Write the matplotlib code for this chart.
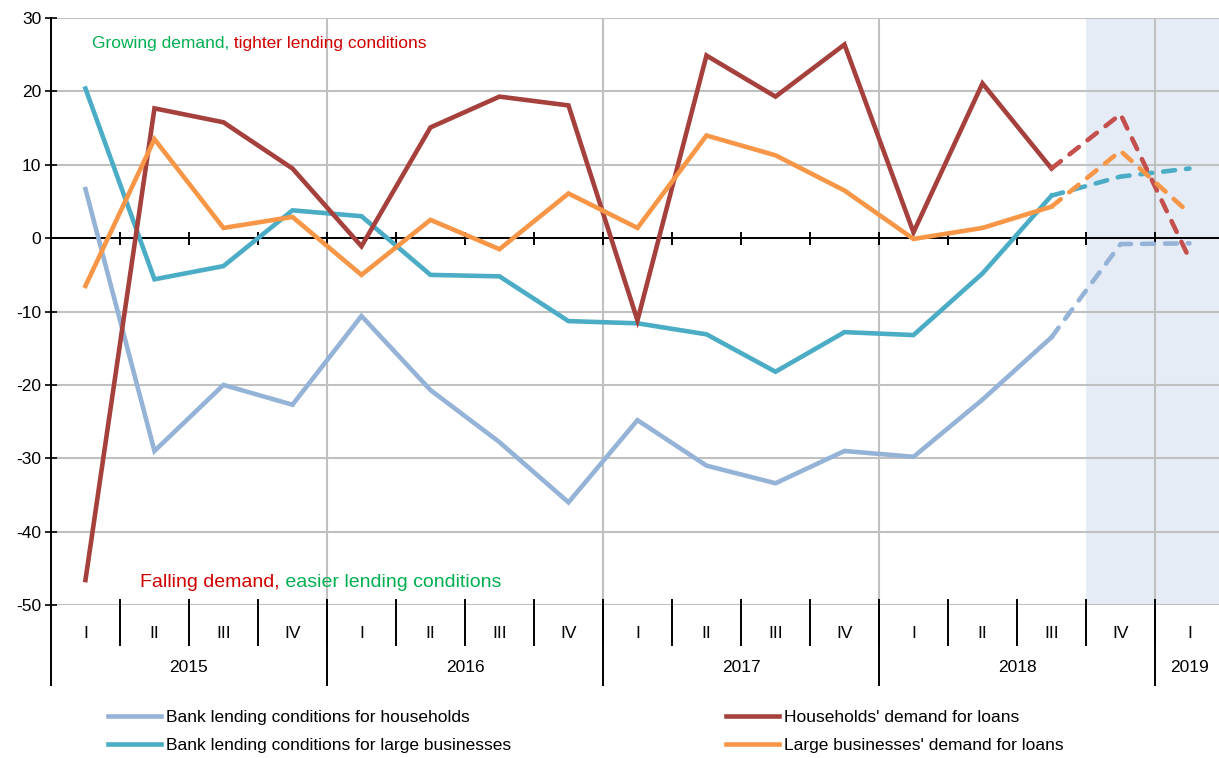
import matplotlib
matplotlib.use("Agg")
import matplotlib.pyplot as plt
import numpy as np

plt.rcParams.update({
    "font.family": "Liberation Sans",
    "font.size": 12,
    "axes.unicode_minus": False,
})

# ------------------------------------------------------------
# Data
# ------------------------------------------------------------
quarters = ["I", "II", "III", "IV"] * 4 + ["I"]
years = ["2015", "2016", "2017", "2018", "2019"]
year_spans = [(0, 3), (4, 7), (8, 11), (12, 15), (16, 16)]

hh_cond = [6.7, -29.0, -20.0, -22.7, -10.6, -20.7, -27.8, -36.0, -24.8,
           -31.0, -33.4, -29.0, -29.8, -22.0, -13.5, -0.8, -0.7]
lb_cond = [20.4, -5.6, -3.8, 3.8, 3.0, -5.0, -5.2, -11.3, -11.6,
           -13.1, -18.2, -12.8, -13.2, -4.8, 5.8, 8.4, 9.5]
hh_dem = [-46.6, 17.7, 15.8, 9.5, -1.1, 15.1, 19.3, 18.1, -11.2,
          24.9, 19.3, 26.4, 0.8, 21.1, 9.5, 16.9, -2.8]
lb_dem = [-6.5, 13.5, 1.4, 2.9, -5.0, 2.5, -1.5, 6.1, 1.4,
          14.0, 11.3, 6.5, -0.1, 1.4, 4.3, 11.9, 3.4]

last_actual = 14  # 2018 Q3, forecast afterwards

# ------------------------------------------------------------
# Colours
# ------------------------------------------------------------
c_hh_cond = "#95B3D7"
c_lb_cond = "#4BACC6"
c_hh_dem = "#A5403D"
c_hh_dem_f = "#C4504D"
c_lb_dem = "#F79646"
green = "#00B050"
red = "#D00000"
grid_c = "#C0C0C0"

fig = plt.figure(figsize=(12.19, 7.58), dpi=100)
ax = fig.add_axes([0.0418, 0.2018, 0.9623, 0.7743])

n = len(quarters)
x = np.arange(n)

# forecast shading and grid
ax.axvspan(last_actual + 0.5, n - 0.5, color="#E6ECF6", zorder=0, lw=0)
for yv in range(-50, 31, 10):
    ax.axhline(yv, color=grid_c, lw=1.5, zorder=1)
for s, e in year_spans[1:]:
    ax.axvline(s - 0.5, color=grid_c, lw=1.5, zorder=1)

# zero axis with small ticks
ax.axhline(0, color="black", lw=1.4, zorder=2)
ax.vlines(x[:-1] + 0.5, -0.9, 0.9, color="black", lw=1.4, zorder=2)

series = [
    (hh_cond, c_hh_cond, c_hh_cond, "Bank lending conditions for households"),
    (lb_cond, c_lb_cond, c_lb_cond, "Bank lending conditions for large businesses"),
    (hh_dem, c_hh_dem, c_hh_dem_f, "Households' demand for loans"),
    (lb_dem, c_lb_dem, c_lb_dem, "Large businesses' demand for loans"),
]
handles = {}
for vals, col, colf, lab in series:
    vals = np.array(vals)
    ln, = ax.plot(x[:last_actual + 1], vals[:last_actual + 1], color=col,
                  lw=3.3, solid_joinstyle="miter", zorder=3, label=lab)
    ax.plot(x[last_actual:], vals[last_actual:], color=colf, lw=3.3,
            ls=(0, (2.6, 2.4)), dash_capstyle="round", zorder=3)
    handles[lab] = ln

ax.set_xlim(-0.5, n - 0.5)
ax.set_ylim(-50, 30)
ax.set_yticks(range(-50, 31, 10))
ax.tick_params(axis="y", direction="inout", length=8, width=1.2, labelsize=12.5, pad=3)
ax.set_xticks([])
for sp in ["top", "right", "bottom"]:
    ax.spines[sp].set_visible(False)
ax.spines["left"].set_linewidth(1.4)
ax.spines["left"].set_zorder(4)

# category axis below the plot
trans = ax.get_xaxis_transform()
ax.plot([-0.5, -0.5], [0, -0.136], transform=trans, color="black", lw=1.4, clip_on=False)
for i, q in enumerate(quarters):
    ax.text(i, -0.048, q, transform=trans, ha="center", va="center", fontsize=12.5)
    if i < n - 1:
        ax.plot([i + 0.5, i + 0.5], [0.008, -0.068], transform=trans,
                color="black", lw=1.4, clip_on=False)
for yr, (s, e) in zip(years, year_spans):
    ax.text((s + e) / 2, -0.107, yr, transform=trans, ha="center", va="center", fontsize=12.5)
    if s > 0:
        ax.plot([s - 0.5, s - 0.5], [0, -0.136], transform=trans,
                color="black", lw=1.4, clip_on=False)

# quadrant notes
t1 = ax.text(0.0351, 0.957, "Growing demand,", transform=ax.transAxes,
             color=green, fontsize=12.5, ha="left", va="center")
ax.annotate(" tighter lending conditions", xy=(1, 0), xycoords=t1,
            color=red, fontsize=12.5, ha="left", va="bottom")
t2 = ax.text(0.076, 0.039, "Falling demand,", transform=ax.transAxes,
             color=red, fontsize=14, ha="left", va="center")
ax.annotate(" easier lending conditions", xy=(1, 0), xycoords=t2,
            color=green, fontsize=14, ha="left", va="bottom")

order = [s[3] for s in series]
fig.legend([handles[k] for k in order], order, ncol=2, frameon=False,
           loc="upper left", bbox_to_anchor=(0.0812, 0.075), borderpad=0,
           fontsize=12.5, handlelength=3.05, handletextpad=0.3,
           columnspacing=12.4, labelspacing=0.72)

fig.savefig("out.png", dpi=100)
